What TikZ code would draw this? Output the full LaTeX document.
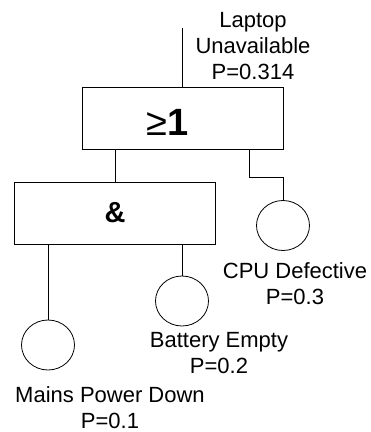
\documentclass[tikz,border=0pt]{standalone}
\usepackage{fontspec}
\setmainfont{Liberation Sans}
\usetikzlibrary{shapes.geometric}

\begin{document}
\begin{tikzpicture}
  [x=1pt,y=-1pt,line width=0.8pt,
   every node/.style={font=\fontsize{22}{26}\selectfont},
   gate/.style={draw,rectangle,minimum width=201pt,minimum height=62pt,inner sep=0pt},
   event/.style={draw,ellipse,minimum width=53pt,minimum height=50pt,inner sep=0pt},
   info/.style={align=center,anchor=north,inner sep=0pt}]

  \useasboundingbox (0,0) rectangle (371,432);

  % Compuertas
  \node[gate,label={[shift={(-15pt,-4pt)},font=\fontsize{38}{40}\selectfont]center:≥\textbf{1}}] (or) at (182.5,118.5) {};
  \node[gate] (and) at (115,213) {\fontsize{29}{32}\selectfont\bfseries\&};

  % Eventos basicos
  \node[event] (cpu) at (283,225.5) {};
  \node[event] (battery) at (182,301) {};
  \node[event] (mains) at (48,345) {};

  % Textos
  \coordinate (top) at (182.5,28);
  \node[info] (topinfo) at (253,12) {Laptop\\Unavailable\\P=0.314};
  \node[info] (cpuinfo) at (295,262) {CPU Defective\\P=0.3};
  \node[info] (batteryinfo) at (219,332) {Battery Empty\\P=0.2};
  \node[info] (mainsinfo) at (110,386) {Mains Power Down\\P=0.1};

  % Conexiones
  \draw (top) -- (or);
  \draw (and) -- (and |- or.south);
  \draw ([xshift=-34pt]or.south east) -- ++(0,27) -| (cpu);
  \draw (battery) -- (battery |- and.south);
  \draw (mains) -- (mains |- and.south);

\end{tikzpicture}
\end{document}
